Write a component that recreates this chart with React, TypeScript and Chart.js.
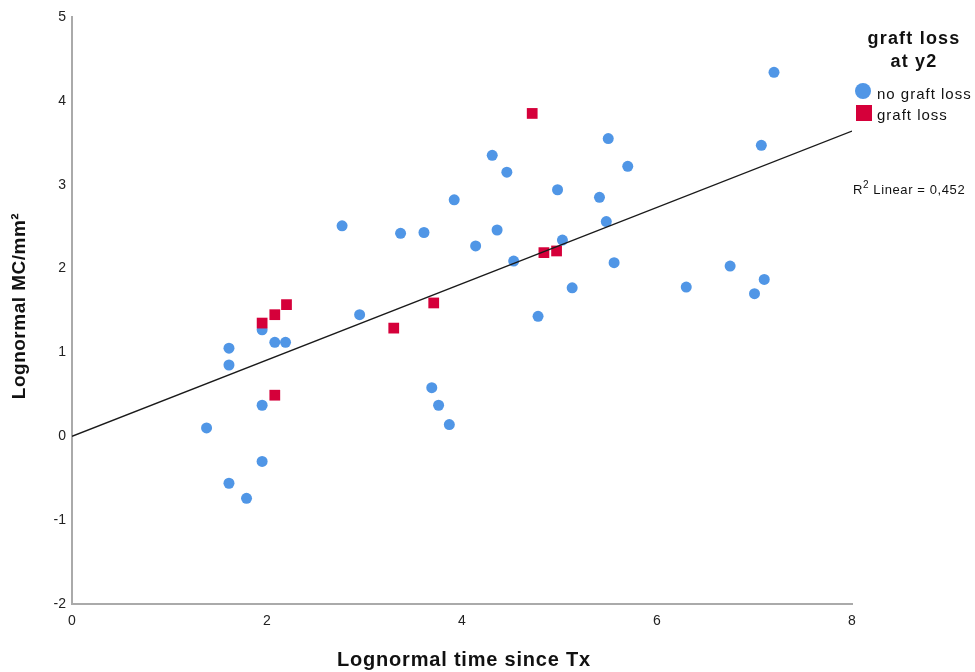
import React, { useEffect, useRef } from "react";
import { Chart, registerables } from "chart.js";

Chart.register(...registerables);

const noLossX = [1.38, 1.61, 1.61, 1.61, 1.79, 1.95, 1.95, 1.95, 2.08, 2.19, 2.77, 2.95, 3.37, 3.61, 3.69, 3.76, 3.87, 3.92, 4.14, 4.31, 4.36, 4.46, 4.53, 4.78, 4.98, 5.03, 5.13, 5.41, 5.50, 5.48, 5.56, 5.70, 6.30, 6.75, 7.00, 7.07, 7.10, 7.20];
const noLossY = [0.10, 1.05, 0.85, -0.56, -0.74, 1.27, 0.37, -0.30, 1.12, 1.12, 2.51, 1.45, 2.42, 2.43, 0.58, 0.37, 0.14, 2.82, 2.27, 3.35, 2.46, 3.15, 2.09, 1.43, 2.94, 2.34, 1.77, 2.85, 3.55, 2.56, 2.07, 3.22, 1.78, 2.03, 1.70, 3.47, 1.87, 4.34];

const lossX = [1.95, 2.08, 2.20, 2.08, 3.30, 3.71, 4.72, 4.84, 4.97];
const lossY = [1.35, 1.45, 1.57, 0.49, 1.29, 1.59, 3.85, 2.19, 2.21];

const fitIntercept = 0.0;
const fitSlope = 0.455;
const fitRange = [0, 8];
const r2Text = "0,452";

const xTicks = [0, 2, 4, 6, 8];
const yTicks = [-2, -1, 0, 1, 2, 3, 4, 5];

const seriesNames = ["no graft loss", "graft loss"];
const legendTitle = ["graft loss", "at y2"];
const xTitle = "Lognormal time since Tx";
const yTitle = "Lognormal MC/mm²";

const BLUE = "#5096e6";
const RED = "#d5003a";
const FONT = "'Liberation Sans', Arial, sans-serif";

const textPlugin = {
  id: "textPlugin",
  afterDraw(chart: any) {
    const ctx = chart.ctx as CanvasRenderingContext2D;
    const area = chart.chartArea;
    ctx.save();
    ctx.fillStyle = "#111";
    // x title
    ctx.font = `bold 20px ${FONT}`;
    ctx.textAlign = "center";
    ctx.textBaseline = "middle";
    (ctx as any).letterSpacing = "0.8px";
    ctx.fillText(xTitle, (area.left + area.right) / 2 + 2, 660);
    // y title
    ctx.save();
    ctx.translate(20, 306);
    ctx.rotate(-Math.PI / 2);
    ctx.font = `bold 19px ${FONT}`;
    (ctx as any).letterSpacing = "0.5px";
    ctx.fillText(yTitle, 0, 0);
    ctx.restore();
    // legend title
    ctx.font = `bold 18px ${FONT}`;
    (ctx as any).letterSpacing = "1.2px";
    ctx.fillText(legendTitle[0], 914, 39);
    ctx.fillText(legendTitle[1], 914, 62);
    // legend markers
    ctx.fillStyle = BLUE;
    ctx.beginPath();
    ctx.arc(863, 91, 8, 0, Math.PI * 2);
    ctx.fill();
    ctx.fillStyle = RED;
    ctx.fillRect(856, 105, 16, 16);
    ctx.fillStyle = "#111";
    ctx.font = `15px ${FONT}`;
    (ctx as any).letterSpacing = "1px";
    ctx.textAlign = "left";
    ctx.fillText(seriesNames[0], 877, 95);
    ctx.fillText(seriesNames[1], 877, 116);
    // R2
    (ctx as any).letterSpacing = "0.6px";
    ctx.font = `13px ${FONT}`;
    ctx.fillText("R", 853, 190);
    const rw = ctx.measureText("R").width;
    ctx.font = `10px ${FONT}`;
    ctx.fillText("2", 853 + rw, 185);
    const tw = ctx.measureText("2").width;
    ctx.font = `13px ${FONT}`;
    ctx.fillText(" Linear = " + r2Text, 853 + rw + tw, 190);
    ctx.restore();
  },
};

export default function App() {
  const ref = useRef<HTMLCanvasElement | null>(null);
  useEffect(() => {
    if (!ref.current) return;
    const noLoss = noLossX.map((x, i) => ({ x, y: noLossY[i] }));
    const loss = lossX.map((x, i) => ({ x, y: lossY[i] }));
    const fit = fitRange.map((x) => ({ x, y: fitIntercept + fitSlope * x }));
    const chart = new Chart(ref.current, {
      type: "scatter",
      data: {
        datasets: [
          {
            label: seriesNames[0],
            data: noLoss,
            pointStyle: "circle",
            pointRadius: 5.5,
            backgroundColor: BLUE,
            borderWidth: 0,
            order: 3,
          },
          {
            label: seriesNames[1],
            data: loss,
            pointStyle: "rect",
            pointRadius: 7.6,
            backgroundColor: RED,
            borderWidth: 0,
            order: 2,
          },
          {
            type: "line",
            label: "fit",
            data: fit,
            borderColor: "#1a1a1a",
            borderWidth: 1.3,
            pointRadius: 0,
            fill: false,
            order: 1,
          } as any,
        ],
      },
      options: {
        responsive: false,
        animation: false,
        layout: { padding: { left: 0, top: 17, right: 123, bottom: 0 } },
        plugins: { legend: { display: false }, tooltip: { enabled: false } },
        scales: {
          x: {
            type: "linear",
            min: 0,
            max: 8,
            afterFit: (s: any) => {
              s.height = 68;
            },
            afterBuildTicks: (s: any) => {
              s.ticks = xTicks.map((v) => ({ value: v }));
            },
            grid: { display: true, color: "rgba(0,0,0,0)", drawTicks: false },
            border: { display: true, color: "#aaaaaa", width: 2 },
            ticks: { padding: 9, color: "#222", font: { size: 14, family: FONT } },
          },
          y: {
            type: "linear",
            min: -2,
            max: 5,
            afterFit: (s: any) => {
              s.width = 72;
            },
            afterBuildTicks: (s: any) => {
              s.ticks = yTicks.map((v) => ({ value: v }));
            },
            grid: { display: true, color: "rgba(0,0,0,0)", drawTicks: false },
            border: { display: true, color: "#aaaaaa", width: 2 },
            ticks: { padding: 6, color: "#222", font: { size: 14, family: FONT } },
          },
        },
      },
      plugins: [textPlugin],
    });
    return () => chart.destroy();
  }, []);
  return (
    <div style={{ position: "absolute", left: 0, top: 0, width: 975, height: 672, background: "#fff" }}>
      <canvas ref={ref} width={975} height={672} style={{ width: 975, height: 672 }} />
    </div>
  );
}
